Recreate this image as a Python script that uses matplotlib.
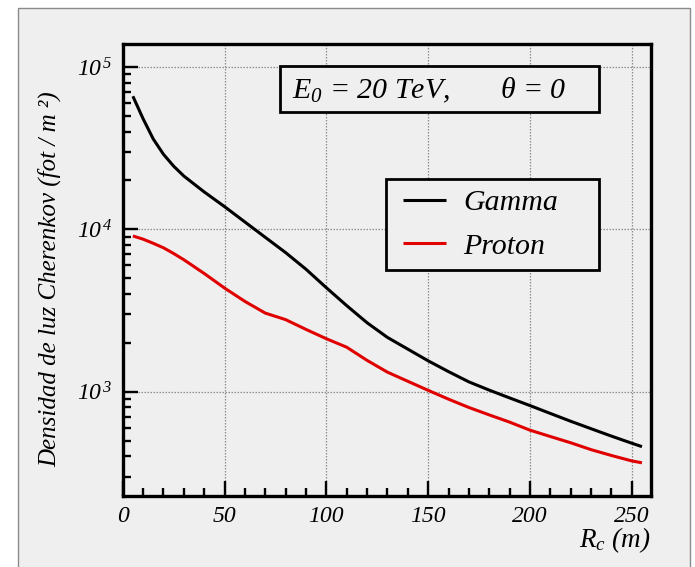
import math
import matplotlib
matplotlib.use("Agg")
import matplotlib.pyplot as plt
from matplotlib.lines import Line2D
from matplotlib.legend_handler import HandlerLine2D
from matplotlib.patches import Rectangle
from matplotlib.ticker import FixedLocator, FuncFormatter, LogLocator, MultipleLocator, NullFormatter

# Lateral distribution of Cherenkov light at ground level
radius_m = [5, 10, 15, 20, 25, 30, 40, 50, 60, 70, 80, 90, 100, 110, 120,
            130, 140, 150, 160, 170, 180, 190, 200, 210, 220, 230, 240, 250, 255]
gamma_density = [66000, 48000, 36000, 29000, 24500, 21300, 17000, 13800, 11100,
                 8930, 7190, 5680, 4370, 3390, 2660, 2160, 1830, 1550, 1330,
                 1150, 1023, 916, 822, 735, 658, 592, 533, 482, 459]
proton_density = [9100, 8700, 8200, 7700, 7100, 6500, 5350, 4350, 3600, 3050,
                  2780, 2420, 2120, 1880, 1560, 1320, 1160, 1020, 900, 800,
                  720, 650, 580, 530, 485, 440, 405, 375, 365]
series_labels = ["Gamma", "Proton"]
x_ticks = [0, 50, 100, 150, 200, 250]
y_decades = [1e3, 1e4, 1e5]

BG = "#efefef"
SERIF = "Liberation Serif"

plt.rcParams.update({
    "font.family": SERIF,
    "font.style": "italic",
    "mathtext.fontset": "custom",
    "mathtext.rm": "Liberation Serif:italic",
    "mathtext.it": "Liberation Serif:italic",
    "mathtext.sf": "Liberation Serif",
})

W, H = 695, 567
fig = plt.figure(figsize=(W / 100, H / 100), dpi=100, facecolor="white")

# Canvas panel with thin grey border, kept behind the axes
fig.patches.append(Rectangle((18 / W, -0.02), (690 - 18) / W, (H - 8) / H + 0.02,
                             transform=fig.transFigure, facecolor=BG,
                             edgecolor="#8a8a8a", linewidth=1.0, zorder=-10))

ax = fig.add_axes([122.7 / W, 1 - 496 / H, (650.7 - 122.7) / W, (496 - 44) / H])
ax.set_facecolor(BG)

ax.plot(radius_m, gamma_density, color="black", lw=2.2, label=series_labels[0],
        solid_capstyle="butt")
ax.plot(radius_m, proton_density, color="#e00000", lw=2.2, label=series_labels[1],
        solid_capstyle="butt")

ax.set_yscale("log")
ax.set_xlim(0, 259.3)
ax.set_ylim(228, 138400)

ax.xaxis.set_major_locator(FixedLocator(x_ticks))
ax.xaxis.set_minor_locator(MultipleLocator(10))
ax.yaxis.set_major_locator(FixedLocator(y_decades))
ax.yaxis.set_minor_locator(LogLocator(base=10, subs=range(2, 10)))
ax.yaxis.set_minor_formatter(NullFormatter())
ax.yaxis.set_major_formatter(FuncFormatter(lambda v, p: r"$10^{\,%d}$" % round(math.log10(v))))
ax.xaxis.set_major_formatter(FuncFormatter(lambda v, p: "%d" % v))

ax.tick_params(which="major", direction="in", length=11, width=1.7,
               labelsize=17, top=False, right=False)
ax.tick_params(which="minor", direction="in", length=6, width=1.7,
               top=False, right=False)
ax.tick_params(axis="x", which="major", pad=7)
ax.tick_params(axis="y", which="major", pad=7)

for s in ax.spines.values():
    s.set_linewidth(2.4)

ax.grid(True, which="major", linestyle=(0, (1.2, 1.2)), color="#8c8c8c", linewidth=0.9)
ax.set_axisbelow(True)

# Header box with primary energy and zenith angle
ax.add_patch(Rectangle((0.298, 0.8496), 0.604, 0.1018, transform=ax.transAxes,
                       facecolor=BG, edgecolor="black", linewidth=2.0, zorder=4))
ax.text(0.3206, 0.8805, r"$E_{0}$ = 20 TeV,", transform=ax.transAxes,
        fontsize=21.5, va="baseline", ha="left", zorder=5)
ax.text(0.7146, 0.8805, r"$\mathsf{\theta}$ = 0", transform=ax.transAxes,
        fontsize=21.5, va="baseline", ha="left", zorder=5)

leg = ax.legend(loc="lower left", bbox_to_anchor=(0.4987, 0.5, 0.4033, 0.2013),
                mode="expand", fontsize=21.5, handlelength=1.66, handletextpad=0.57,
                labelspacing=0.55, borderpad=0.35, borderaxespad=0,
                handler_map={Line2D: HandlerLine2D(xpad=0.23)},
                fancybox=False, framealpha=1, facecolor=BG, edgecolor="black")
leg.get_frame().set_linewidth(2.0)
leg.set_zorder(5)

ax.text(1.0, -0.0975, r"$R_{c}$ (m)", transform=ax.transAxes, fontsize=19.5,
        ha="right", va="center")
ax.text(-0.1377, 0.480, "Densidad de luz Cherenkov (fot / m ²)", transform=ax.transAxes,
        fontsize=18, rotation=90, ha="center", va="center")

fig.savefig("out.png", dpi=100, facecolor="white")
